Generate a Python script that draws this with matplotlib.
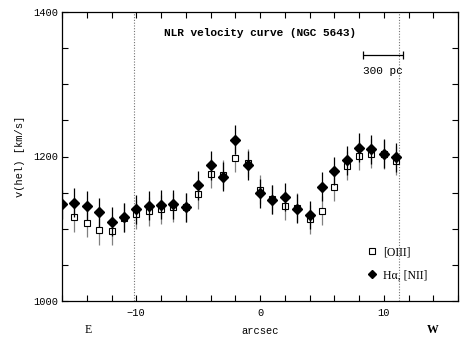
import numpy as np
import matplotlib
matplotlib.use("Agg")
import matplotlib.pyplot as plt
from matplotlib.lines import Line2D

# ---- data ----
pos = np.arange(-16, 12)  # arcsec
v_halpha = [1134, 1136, 1132, 1123, 1110, 1116, 1127, 1132, 1133, 1134, 1130,
            1160, 1188, 1172, 1223, 1188, 1149, 1140, 1144, 1128, 1119, 1158,
            1180, 1195, 1212, 1210, 1204, 1199]
v_oiii = [np.nan, 1116, 1108, 1098, 1097, 1115, 1120, 1124, 1127, 1130, 1130,
          1148, 1176, 1175, 1198, 1191, 1154, 1141, 1132, 1129, 1113, 1125,
          1158, 1187, 1201, 1204, 1203, 1194]
err_halpha = [20] * len(pos)
err_oiii = [20] * len(pos)

title = "NLR velocity curve (NGC 5643)"
xticks = [-10, 0, 10]
yticks = [1000, 1200, 1400]

mono = "Liberation Mono"
serif = "Liberation Serif"

fig = plt.figure(figsize=(4.65, 3.38), dpi=100)
ax = fig.add_axes([62/465, 1-301/338, (458-62)/465, (301-12)/338])

ax.errorbar(pos, v_oiii, yerr=err_oiii, fmt='s', ms=4.3, mfc='white', mec='black',
            mew=0.8, ecolor='0.5', elinewidth=0.9, capsize=0, zorder=3)
ax.errorbar(pos, v_halpha, yerr=err_halpha, fmt='D', ms=4.7, mfc='black', mec='black',
            ecolor='black', elinewidth=0.9, capsize=0, zorder=4)

for xv in (-10.2, 11.2):
    ax.axvline(xv, color='0.45', lw=0.8, ls=(0, (1, 1.5)), zorder=1)

ax.set_xlim(-16, 16)
ax.set_ylim(1000, 1400)
ax.set_xticks(xticks)
ax.set_xticks(np.arange(-16, 17, 2), minor=True)
ax.set_yticks(yticks)
ax.set_yticks(np.arange(1000, 1401, 50), minor=True)
ax.tick_params(which='both', direction='in', top=True, right=True, length=4.5, width=0.8)
for lab in ax.get_xticklabels() + ax.get_yticklabels():
    lab.set_fontfamily(mono)
    lab.set_fontsize(7.5)
ax.tick_params(axis='x', pad=5)
ax.tick_params(axis='y', pad=3)
for s in ax.spines.values():
    s.set_linewidth(0.9)

ax.set_ylabel("v(hel) [km/s]", fontfamily=mono, fontsize=7.5, labelpad=6)
ax.set_xlabel("arcsec", fontfamily=mono, fontsize=7.5, labelpad=6)

ax.text(0, 1371, title, fontfamily=mono, fontsize=8, fontweight='bold',
        ha='center', va='center')

# scale bar
ax.errorbar([9.94], [1340], xerr=[1.62], fmt='none', ecolor='black', elinewidth=0.9,
            capsize=3, capthick=0.9)
ax.text(9.94, 1319, "300 pc", fontfamily=mono, fontsize=8, ha='center', va='center')

fig.text(88/465, 1-330/338, "E", fontfamily=serif, fontsize=8.5,
         ha='center', va='center')
fig.text(433/465, 1-330/338, "W", fontfamily=serif, fontsize=8.5, fontweight='bold',
         ha='center', va='center')

handles = [Line2D([], [], ls='none', marker='s', ms=4.3, mfc='white', mec='black', mew=0.8),
           Line2D([], [], ls='none', marker='D', ms=3.8, mfc='black', mec='black')]
leg = ax.legend(handles, ["[OIII]", "H\u03b1, [NII]"], loc='upper left',
                bbox_to_anchor=(0.755, 0.21), frameon=False, handlelength=0.8,
                handletextpad=0.55, labelspacing=0.95, borderpad=0,
                prop={'family': serif, 'size': 8.5})

fig.savefig("out.png", dpi=100)
